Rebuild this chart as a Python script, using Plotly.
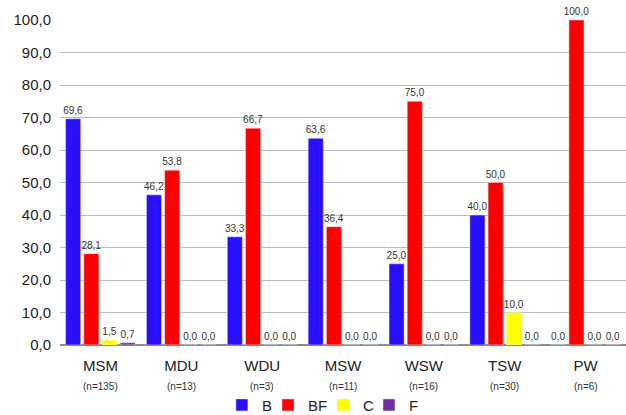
import plotly.graph_objects as go

categories = ["MSM", "MDU", "WDU", "MSW", "WSW", "TSW", "PW"]
n_labels = ["(n=135)", "(n=13)", "(n=3)", "(n=11)", "(n=16)", "(n=30)", "(n=6)"]
B = [69.6, 46.2, 33.3, 63.6, 25.0, 40.0, 0.0]
BF = [28.1, 53.8, 66.7, 36.4, 75.0, 50.0, 100.0]
C = [1.5, 0.0, 0.0, 0.0, 0.0, 10.0, 0.0]
F = [0.7, 0.0, 0.0, 0.0, 0.0, 0.0, 0.0]

series = [("B", B, "#2A0FFF"), ("BF", BF, "#FF0000"), ("C", C, "#FFFF00"), ("F", F, "#7030A0")]
legend_names = ["legend", "legend2", "legend3", "legend4"]
legend_x = [0.286, 0.3675, 0.4647, 0.5459]

fig = go.Figure()
for (name, vals, color), lg in zip(series, legend_names):
    fig.add_trace(go.Bar(
        name=name, x=categories, y=vals, marker_color=color,
        texttemplate="%{y:.1f}", textposition="outside", constraintext="none",
        textfont=dict(size=10, color="#333333"), cliponaxis=False, legend=lg,
    ))

for cat, lab in zip(categories, n_labels):
    fig.add_annotation(x=cat, xref="x", y=-0.128, yref="paper", text=lab,
                       showarrow=False, font=dict(size=10, color="#333333"),
                       yanchor="middle")

legend_style = dict(orientation="h", xanchor="left", y=-0.185, yanchor="middle",
                    font=dict(size=15), itemwidth=30, bgcolor="rgba(0,0,0,0)")

fig.update_layout(
    width=626, height=415,
    margin=dict(l=60, r=0, t=20, b=70, autoexpand=False),
    paper_bgcolor="white", plot_bgcolor="white",
    separators=",.",
    barmode="group", bargap=0.1, bargroupgap=0.17,
    font=dict(family="Liberation Sans, Arial, sans-serif", color="#222222"),
    showlegend=True,
    **{lg: dict(x=lx, **legend_style) for lg, lx in zip(legend_names, legend_x)},
)
fig.update_xaxes(tickfont=dict(size=15), ticks="", showgrid=False, showline=False,
                 automargin=False, ticklabelstandoff=10)
fig.update_yaxes(range=[0, 100], dtick=10, tickformat=".1f", tickfont=dict(size=15),
                 showgrid=True, gridcolor="#BBBBBB", gridwidth=1,
                 zeroline=True, zerolinecolor="#8C8C8C", zerolinewidth=1.5,
                 ticks="", ticklabelstandoff=8, automargin=False)

fig.write_html("out.html", config={"displayModeBar": False},
               post_script="document.body.style.margin='0px';")
